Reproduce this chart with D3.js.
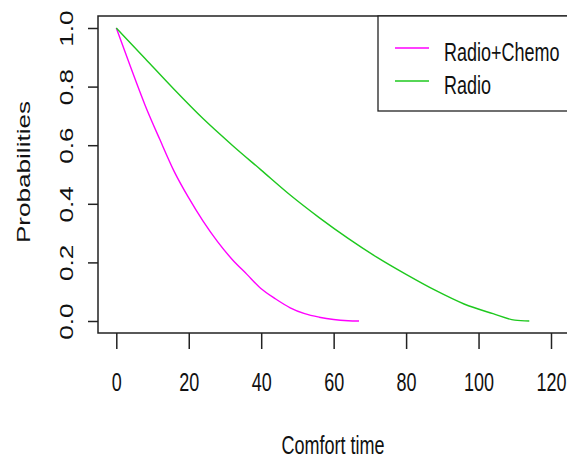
<!DOCTYPE html>
<html>
<head>
<meta charset="utf-8">
<script src="https://cdn.jsdelivr.net/npm/d3@7"></script>
<style>
  html, body { margin: 0; padding: 0; background: #fff; }
  svg { display: block; font-family: "Liberation Sans", Arial, sans-serif; }
</style>
</head>
<body>
<svg id="chart" width="567" height="461"></svg>
<script>
// curve values
const chemoTime = [0, 4, 8, 12, 16, 20, 24, 28, 32, 36, 40, 44, 48, 52, 56, 60, 64, 67];
const chemoProb = [1.0, 0.865, 0.735, 0.62, 0.51, 0.42, 0.34, 0.27, 0.21, 0.16, 0.11, 0.075, 0.045, 0.025, 0.013, 0.005, 0.001, 0.0];
const radioTime = [0, 8, 16, 24, 32, 40, 48, 56, 64, 72, 80, 88, 96, 104, 110, 114];
const radioProb = [1.0, 0.895, 0.79, 0.69, 0.60, 0.515, 0.43, 0.353, 0.282, 0.217, 0.159, 0.105, 0.058, 0.025, 0.003, 0.0];
const xTicks = [0, 20, 40, 60, 80, 100, 120];
const yTicks = [0, 0.2, 0.4, 0.6, 0.8, 1.0];
const seriesNames = ["Radio+Chemo", "Radio"];
const seriesColors = ["#ff00ff", "#1ec81e"];

const svg = d3.select("#chart");
const stretch = 1.45; // the picture is stretched vertically, text too

const x = d3.scaleLinear().domain([0, 120]).range([116.3, 551]);
const y = d3.scaleLinear().domain([0, 1]).range([321, 28]);

const box = { left: 98, top: 16, right: 600, bottom: 333 };

// plot box
svg.append("rect")
  .attr("x", box.left).attr("y", box.top)
  .attr("width", box.right - box.left).attr("height", box.bottom - box.top)
  .attr("fill", "none").attr("stroke", "#222").attr("stroke-width", 1.5);

// x axis
const xAxis = svg.append("g")
  .attr("transform", `translate(0,${box.bottom})`)
  .call(d3.axisBottom(x).tickValues(xTicks).tickSize(16).tickFormat(d3.format("d")));
xAxis.select(".domain").remove();
xAxis.selectAll("line").attr("stroke", "#222").attr("stroke-width", 1.5);
xAxis.selectAll("text")
  .attr("y", 58 / stretch).attr("dy", 0)
  .attr("transform", `scale(1,${stretch})`)
  .attr("fill", "#111").style("font-size", "18px");

// y axis
const yAxis = svg.append("g")
  .attr("transform", `translate(${box.left},0)`)
  .call(d3.axisLeft(y).tickValues(yTicks).tickSize(10).tickFormat(d3.format(".1f")));
yAxis.select(".domain").remove();
yAxis.selectAll("line").attr("stroke", "#222").attr("stroke-width", 1.5);
yAxis.selectAll("text")
  .attr("x", 0).attr("y", 0).attr("dy", 0)
  .attr("text-anchor", "middle")
  .attr("transform", `translate(-25,0) scale(1,${stretch}) rotate(-90)`)
  .attr("fill", "#111").style("font-size", "18px");

// axis titles
svg.append("text")
  .attr("transform", `translate(333,454) scale(1,${stretch})`)
  .attr("text-anchor", "middle").attr("fill", "#111").style("font-size", "18px")
  .text("Comfort time");
svg.append("text")
  .attr("transform", `translate(30,172) scale(1,${stretch}) rotate(-90)`)
  .attr("text-anchor", "middle").attr("fill", "#111").style("font-size", "18px")
  .text("Probabilities");

// curves
const line = d3.line().x(d => x(d[0])).y(d => y(d[1])).curve(d3.curveMonotoneX);
const series = [
  chemoTime.map((t, i) => [t, chemoProb[i]]),
  radioTime.map((t, i) => [t, radioProb[i]])
];
svg.append("g").selectAll("path").data(series).enter().append("path")
  .attr("d", line)
  .attr("fill", "none")
  .attr("stroke", (d, i) => seriesColors[i])
  .attr("stroke-width", 1.4);

// legend
svg.append("rect")
  .attr("x", 378).attr("y", box.top)
  .attr("width", 300).attr("height", 111 - box.top)
  .attr("fill", "#fff").attr("stroke", "#222").attr("stroke-width", 1.3);
const legend = svg.append("g").selectAll("g").data(seriesNames).enter().append("g")
  .attr("transform", (d, i) => `translate(0,${48 + i * 33})`);
legend.append("line")
  .attr("x1", 395).attr("x2", 429)
  .attr("stroke", (d, i) => seriesColors[i]).attr("stroke-width", 1.6);
legend.append("text")
  .attr("transform", `translate(444,13) scale(1,${stretch})`)
  .attr("fill", "#111").style("font-size", "18px")
  .text(d => d);
</script>
</body>
</html>
